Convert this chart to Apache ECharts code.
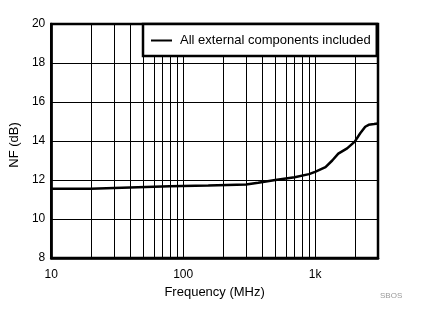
<!DOCTYPE html>
<html>
<head>
<meta charset="utf-8">
<script src="https://cdn.jsdelivr.net/npm/echarts@6/dist/echarts.min.js"></script>
<style>html,body{margin:0;padding:0;background:#fff}#c{width:422px;height:324px}</style>
</head>
<body>
<div id="c"></div>
<script>
const freqMHz = [10, 19.9, 20, 39.5, 40, 79, 80, 155, 160, 300, 370, 500, 700, 900, 1000, 1200, 1350, 1500, 1750, 2000, 2200, 2400, 2550, 2800, 3000];
const nfDb = [11.55, 11.55, 11.62, 11.62, 11.68, 11.68, 11.72, 11.72, 11.75, 11.77, 11.86, 12.0, 12.14, 12.3, 12.42, 12.66, 13.0, 13.35, 13.62, 13.97, 14.4, 14.73, 14.83, 14.87, 14.9];
const minorGridFreqs = [20, 30, 40, 50, 60, 70, 80, 90, 200, 300, 400, 500, 600, 700, 800, 900, 2000];
const seriesName = 'All external components included';
const xTickLabels = {10: '10', 100: '100', 1000: '1k'};

const font = 'Arial, "Liberation Sans", sans-serif';
const chart = echarts.init(document.getElementById('c'), null, {renderer: 'canvas'});
chart.setOption({
  animation: false,
  backgroundColor: '#fff',
  title: {
    text: 'SBOS', left: 380, top: 292, padding: 0,
    textStyle: {fontSize: 8, fontWeight: 'normal', color: '#999', fontFamily: font}
  },
  grid: {left: 47, right: 44, top: 24, bottom: 66, show: true, borderColor: '#000', borderWidth: 2.5, backgroundColor: 'transparent'},
  legend: {
    left: 143, top: 24,
    padding: [10, 6, 9, 8],
    backgroundColor: '#fff', borderColor: '#000', borderWidth: 2.5,
    icon: 'rect', itemWidth: 21, itemHeight: 2,
    textStyle: {fontSize: 13, color: '#000', fontFamily: font, padding: [0, 0, 0, 3]},
    data: [seriesName]
  },
  xAxis: {
    type: 'log', logBase: 10, min: 10, max: 3000,
    name: 'Frequency (MHz)', nameLocation: 'middle', nameGap: 24,
    nameTextStyle: {fontSize: 13, color: '#000', fontFamily: font},
    axisLine: {show: true, lineStyle: {color: '#000', width: 2.5}},
    axisTick: {show: false},
    axisLabel: {
      fontSize: 12, color: '#000', fontFamily: font, margin: 11,
      formatter: function (v) { const r = Math.round(v); return xTickLabels[r] !== undefined ? xTickLabels[r] : ''; }
    },
    splitLine: {show: true, lineStyle: {color: '#000', width: 1}},
    minorTick: {show: false}, minorSplitLine: {show: false}
  },
  yAxis: {
    type: 'value', min: 8, max: 20, interval: 2,
    name: 'NF (dB)', nameLocation: 'middle', nameGap: 28,
    nameTextStyle: {fontSize: 13, color: '#000', fontFamily: font, padding: [0, 8, 0, 0]},
    axisLine: {show: true, lineStyle: {color: '#000', width: 2.5}},
    axisTick: {show: false},
    axisLabel: {fontSize: 12, color: '#000', fontFamily: font, margin: 6},
    splitLine: {show: true, lineStyle: {color: '#000', width: 1}}
  },
  series: [{
    name: seriesName,
    type: 'line',
    data: freqMHz.map((f, i) => [f, nfDb[i]]),
    symbol: 'none',
    lineStyle: {color: '#000', width: 2.5},
    itemStyle: {color: '#000'},
    z: 3,
    markLine: {
      silent: true, symbol: 'none', animation: false,
      label: {show: false},
      lineStyle: {color: '#000', width: 1, type: 'solid'},
      emphasis: {disabled: true},
      z: 1,
      data: minorGridFreqs.map(v => ({xAxis: v}))
    }
  }]
});
</script>
</body>
</html>
